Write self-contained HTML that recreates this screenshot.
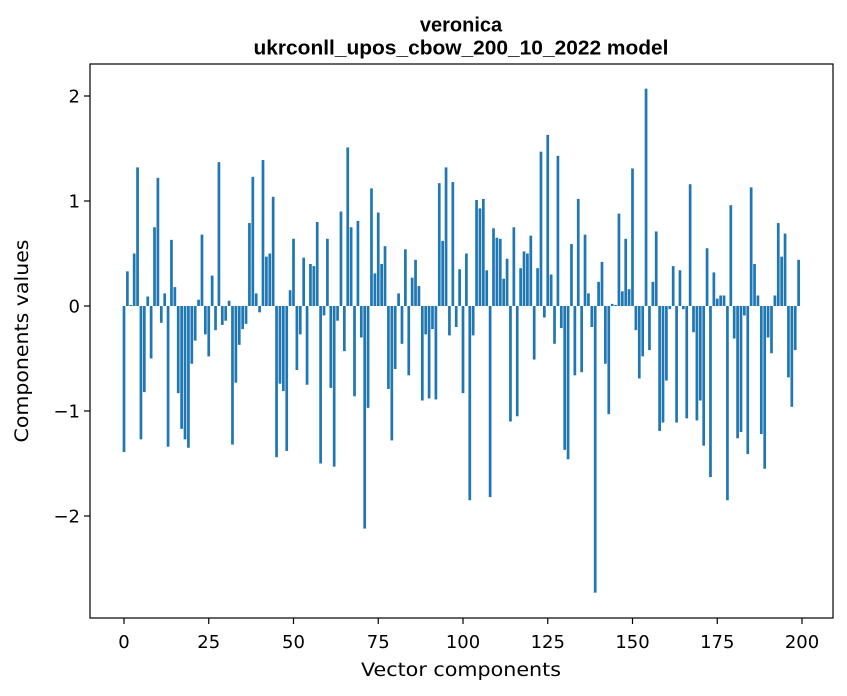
<!DOCTYPE html>
<html><head><meta charset="utf-8"><style>
html,body{margin:0;padding:0;background:#fff;}
svg{display:block;font-family:"DejaVu Sans",sans-serif;}
</style></head><body>
<svg id="chart" width="847" height="696">
<rect width="847" height="696" fill="#fff"/>
<text x="461" y="31.5" text-anchor="middle" font-family="Liberation Sans, sans-serif" font-size="20" font-weight="bold">veronica</text>
<text x="461" y="54.5" text-anchor="middle" font-family="Liberation Sans, sans-serif" font-size="20" font-weight="bold" textLength="415" lengthAdjust="spacingAndGlyphs">ukrconll_upos_cbow_200_10_2022 model</text>
<g id="bars"></g>
<g id="axes"></g>
<rect x="90" y="64" width="743" height="554" fill="none" stroke="#000" stroke-width="1.2"/>
<text x="461" y="676" text-anchor="middle" font-size="19" textLength="200" lengthAdjust="spacingAndGlyphs">Vector components</text>
<text transform="translate(28,341) rotate(-90)" text-anchor="middle" font-size="19" textLength="203" lengthAdjust="spacingAndGlyphs">Components values</text>
</svg>
<script>
const values = [
-1.39,0.33,0.01,0.50,1.32,-1.27,-0.82,0.09,-0.50,0.75,
1.22,-0.16,0.12,-1.34,0.63,0.18,-0.83,-1.17,-1.27,-1.35,
-0.55,-0.33,0.06,0.68,-0.27,-0.48,0.29,-0.23,1.37,-0.18,
-0.14,0.05,-1.32,-0.73,-0.37,-0.22,-0.17,0.79,1.23,0.12,
-0.06,1.39,0.47,0.50,1.04,-1.44,-0.74,-0.81,-1.38,0.15,
0.64,-0.61,-0.27,0.46,-0.75,0.40,0.38,0.80,-1.50,-0.09,
0.64,-0.78,-1.53,-0.14,0.90,-0.43,1.51,0.75,-0.86,0.81,
-0.30,-2.12,-0.97,1.12,0.31,0.89,0.40,0.57,-0.79,-1.28,
-0.60,0.12,-0.36,0.54,-0.66,0.27,0.44,0.19,-0.90,-0.27,
-0.88,-0.22,-0.89,1.17,0.62,1.32,-0.28,1.18,-0.20,0.35,
-0.83,0.50,-1.85,-0.28,1.01,0.93,1.02,0.34,-1.82,0.74,
0.65,0.64,0.26,0.45,-1.10,0.75,-1.05,0.36,0.52,0.50,
0.67,-0.51,0.36,1.47,-0.11,1.63,0.30,-0.36,1.43,-0.21,
-1.37,-1.46,0.59,-0.66,1.02,-0.63,0.68,0.12,-0.20,-2.73,
0.23,0.42,-0.55,-1.03,0.02,0.01,0.88,0.14,0.64,0.16,
1.31,-0.23,-0.69,-0.48,2.07,-0.42,0.23,0.71,-1.19,-1.11,
-0.71,-0.03,0.38,-1.11,0.34,-0.03,-1.07,1.16,-0.25,-1.09,
-0.90,-1.33,0.55,-1.63,0.32,0.07,0.10,0.10,-1.85,0.96,
-0.31,-1.26,-1.20,-0.09,-1.41,1.13,0.40,0.10,-1.22,-1.55,
-0.30,-0.45,0.10,0.79,0.47,0.69,-0.68,-0.96,-0.42,0.44
];
const xTicks = [0,25,50,75,100,125,150,175,200];
const yTicks = [-2,-1,0,1,2];
const NS="http://www.w3.org/2000/svg";
const xs = v => 124 + v*3.39;
const ys = v => 306 - v*105;
const bars = document.getElementById('bars');
values.forEach((v,i)=>{
  const r=document.createElementNS(NS,'rect');
  const y0=ys(Math.max(v,0)), y1=ys(Math.min(v,0));
  r.setAttribute('x',xs(i-0.4));
  r.setAttribute('y',y0);
  r.setAttribute('width',3.39*0.8);
  r.setAttribute('height',Math.max(y1-y0,0.3));
  r.setAttribute('fill','#1f77b4');
  
  
  bars.appendChild(r);
});
const axes=document.getElementById('axes');
xTicks.forEach(t=>{
  const l=document.createElementNS(NS,'line');
  l.setAttribute('x1',xs(t));l.setAttribute('x2',xs(t));
  l.setAttribute('y1',618);l.setAttribute('y2',624);
  l.setAttribute('stroke','#000');l.setAttribute('stroke-width','1.2');
  
  
  axes.appendChild(l);
  const tx=document.createElementNS(NS,'text');
  tx.setAttribute('x',xs(t));tx.setAttribute('y',648);
  tx.setAttribute('text-anchor','middle');tx.setAttribute('font-size','18');
  tx.textContent=t;
  
  
  axes.appendChild(tx);
});
yTicks.forEach(t=>{
  const l=document.createElementNS(NS,'line');
  l.setAttribute('x1',84);l.setAttribute('x2',90);
  l.setAttribute('y1',ys(t));l.setAttribute('y2',ys(t));
  l.setAttribute('stroke','#000');l.setAttribute('stroke-width','1.2');
  
  
  axes.appendChild(l);
  const tx=document.createElementNS(NS,'text');
  tx.setAttribute('x',80);tx.setAttribute('y',ys(t)+6.5);
  tx.setAttribute('text-anchor','end');tx.setAttribute('font-size','18');
  tx.textContent=t<0?'\u2212'+Math.abs(t):String(t);
  
  
  axes.appendChild(tx);
});
</script>
</body></html>
